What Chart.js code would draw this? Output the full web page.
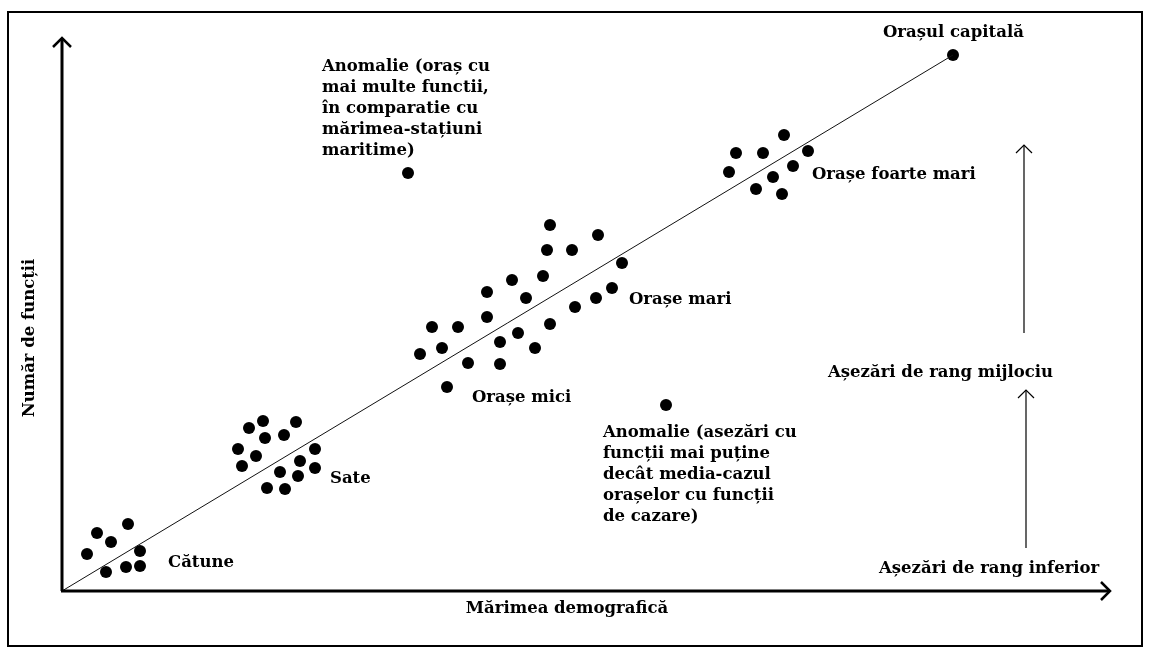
<!DOCTYPE html>
<html>
<head>
<meta charset="utf-8">
<title>Ierarhia așezărilor</title>
<script src="https://cdn.jsdelivr.net/npm/chart.js@4"></script>
<style>
  html, body { margin: 0; padding: 0; background: #fff; }
</style>
</head>
<body>
<canvas id="rangChart" width="1150" height="653"></canvas>
<script>
// x = mărimea demografică, y = număr de funcții (unități arbitrare)
const catune = [
  {x: 3.5, y: 5.8}, {x: 6.6, y: 6.7}, {x: 4.9, y: 4.9}, {x: 2.5, y: 3.7},
  {x: 7.8, y: 4.0}, {x: 4.4, y: 1.9}, {x: 6.4, y: 2.4}, {x: 7.8, y: 2.5}
];
const sate = [
  {x: 18.7, y: 16.3}, {x: 20.1, y: 17.0}, {x: 23.4, y: 16.9}, {x: 20.3, y: 15.3},
  {x: 22.2, y: 15.6}, {x: 17.6, y: 14.2}, {x: 19.4, y: 13.5}, {x: 25.3, y: 14.2},
  {x: 18.0, y: 12.5}, {x: 23.8, y: 13.0}, {x: 21.8, y: 11.9}, {x: 25.3, y: 12.3},
  {x: 23.6, y: 11.5}, {x: 20.5, y: 10.3}, {x: 22.3, y: 10.2}
];
const orase = [
  {x: 48.8, y: 36.6}, {x: 53.6, y: 35.6}, {x: 48.5, y: 34.1}, {x: 51.0, y: 34.1},
  {x: 56.0, y: 32.8}, {x: 45.0, y: 31.1}, {x: 48.1, y: 31.5}, {x: 42.5, y: 29.9},
  {x: 46.4, y: 29.3}, {x: 55.0, y: 30.3}, {x: 53.4, y: 29.3}, {x: 51.3, y: 28.4},
  {x: 42.5, y: 27.4}, {x: 37.0, y: 26.4}, {x: 39.6, y: 26.4}, {x: 48.8, y: 26.7},
  {x: 45.6, y: 25.8}, {x: 43.8, y: 24.9}, {x: 35.8, y: 23.7}, {x: 38.0, y: 24.3},
  {x: 47.3, y: 24.3}, {x: 40.6, y: 22.8}, {x: 43.8, y: 22.7}, {x: 38.5, y: 20.4}
];
const oraseFoarteMari = [
  {x: 72.2, y: 45.6}, {x: 67.4, y: 43.8}, {x: 70.1, y: 43.8}, {x: 74.6, y: 44.0},
  {x: 66.7, y: 41.9}, {x: 73.1, y: 42.5}, {x: 71.1, y: 41.4}, {x: 69.4, y: 40.2},
  {x: 72.0, y: 39.7}
];
const capitala = [{x: 89.1, y: 53.6}];
const anomalii = [{x: 34.6, y: 41.8}, {x: 60.4, y: 18.6}];
const dreaptaMedie = [{x: 0, y: 0}, {x: 89.1, y: 53.6}];

// etichete (text, poziție în unități de date, colț stânga)
const etichete = [
  {text: ["Cătune"], x: 10.6, y: 2.8},
  {text: ["Sate"], x: 26.8, y: 11.2},
  {text: ["Orașe mici"], x: 41.0, y: 19.3},
  {text: ["Orașe mari"], x: 56.7, y: 29.1},
  {text: ["Orașe foarte mari"], x: 75.0, y: 41.6},
  {text: ["Orașul capitală"], x: 82.1, y: 55.8},
  {text: ["Anomalie (oraș cu", "mai multe functii,", "în comparatie cu", "mărimea-stațiuni", "maritime)"], x: 26.0, y: 52.4},
  {text: ["Anomalie (asezări cu", "funcții mai puține", "decât media-cazul", "orașelor cu funcții", "de cazare)"], x: 54.1, y: 15.8},
  {text: ["Așezări de rang mijlociu"], x: 76.6, y: 21.8},
  {text: ["Așezări de rang inferior"], x: 81.7, y: 2.2}
];
const titluX = "Mărimea demografică";
const titluY = "Număr de funcții";

// săgeți verticale din dreapta: [x, y jos, y sus]
const sageti = [[96.2, 25.8, 44.6], [96.4, 4.3, 20.1]];

const FONT = 'bold 16.5px "DejaVu Serif"';

function chevronUp(ctx, x, y, s) {
  ctx.beginPath();
  ctx.moveTo(x - s, y + s);
  ctx.lineTo(x, y);
  ctx.lineTo(x + s, y + s);
  ctx.stroke();
}

const decor = {
  id: 'decor',
  afterDatasetsDraw(chart) {
    const ctx = chart.ctx;
    const xs = chart.scales.x, ys = chart.scales.y;
    const a = chart.chartArea;
    ctx.save();
    ctx.strokeStyle = '#000';
    ctx.fillStyle = '#000';

    // rama
    ctx.lineWidth = 2;
    ctx.strokeRect(8, 12, chart.width - 16, chart.height - 19);

    // axe groase cu săgeți
    const ox = xs.getPixelForValue(0), oy = ys.getPixelForValue(0);
    ctx.lineWidth = 3;
    ctx.beginPath();
    ctx.moveTo(ox, oy);
    ctx.lineTo(ox, a.top - 3);
    ctx.moveTo(ox - 1, oy);
    ctx.lineTo(a.right - 2, oy);
    ctx.stroke();
    ctx.lineWidth = 2.5;
    chevronUp(ctx, ox, a.top - 3, 9);
    ctx.beginPath();
    ctx.moveTo(a.right - 11, oy - 9);
    ctx.lineTo(a.right - 2, oy);
    ctx.lineTo(a.right - 11, oy + 9);
    ctx.stroke();

    // săgeți subțiri din dreapta
    ctx.lineWidth = 1.2;
    sageti.forEach(([x, y0, y1]) => {
      const px = xs.getPixelForValue(x);
      const top = ys.getPixelForValue(y1);
      ctx.beginPath();
      ctx.moveTo(px, ys.getPixelForValue(y0));
      ctx.lineTo(px, top);
      ctx.stroke();
      chevronUp(ctx, px, top, 8);
    });

    // texte
    ctx.font = FONT;
    ctx.textBaseline = 'middle';
    ctx.textAlign = 'left';
    etichete.forEach(e => {
      const px = xs.getPixelForValue(e.x);
      const py = ys.getPixelForValue(e.y);
      e.text.forEach((t, i) => ctx.fillText(t, px, py + i * 21));
    });

    ctx.textAlign = 'center';
    ctx.fillText(titluX, xs.getPixelForValue(50.5), ys.getPixelForValue(-1.8));
    ctx.translate(xs.getPixelForValue(-3.2), ys.getPixelForValue(25.3));
    ctx.rotate(-Math.PI / 2);
    ctx.fillText(titluY, 0, 0);
    ctx.restore();
  }
};

const punct = {
  showLine: false, pointRadius: 6, pointHoverRadius: 6,
  backgroundColor: '#000', borderColor: '#000', borderWidth: 0
};

new Chart(document.getElementById('rangChart'), {
  type: 'scatter',
  data: {
    datasets: [
      {label: 'Medie', data: dreaptaMedie, showLine: true, pointRadius: 0,
       borderColor: '#111', borderWidth: 1},
      {label: 'Cătune', data: catune, ...punct},
      {label: 'Sate', data: sate, ...punct},
      {label: 'Orașe', data: orase, ...punct},
      {label: 'Orașe foarte mari', data: oraseFoarteMari, ...punct},
      {label: 'Orașul capitală', data: capitala, ...punct},
      {label: 'Anomalii', data: anomalii, ...punct}
    ]
  },
  options: {
    responsive: false,
    animation: false,
    layout: {padding: {left: 62, right: 38, top: 41, bottom: 62}},
    scales: {
      x: {type: 'linear', min: 0, max: 105, display: false},
      y: {type: 'linear', min: 0, max: 55, display: false}
    },
    plugins: {
      legend: {display: false},
      tooltip: {enabled: false}
    }
  },
  plugins: [decor]
});
</script>
</body>
</html>
